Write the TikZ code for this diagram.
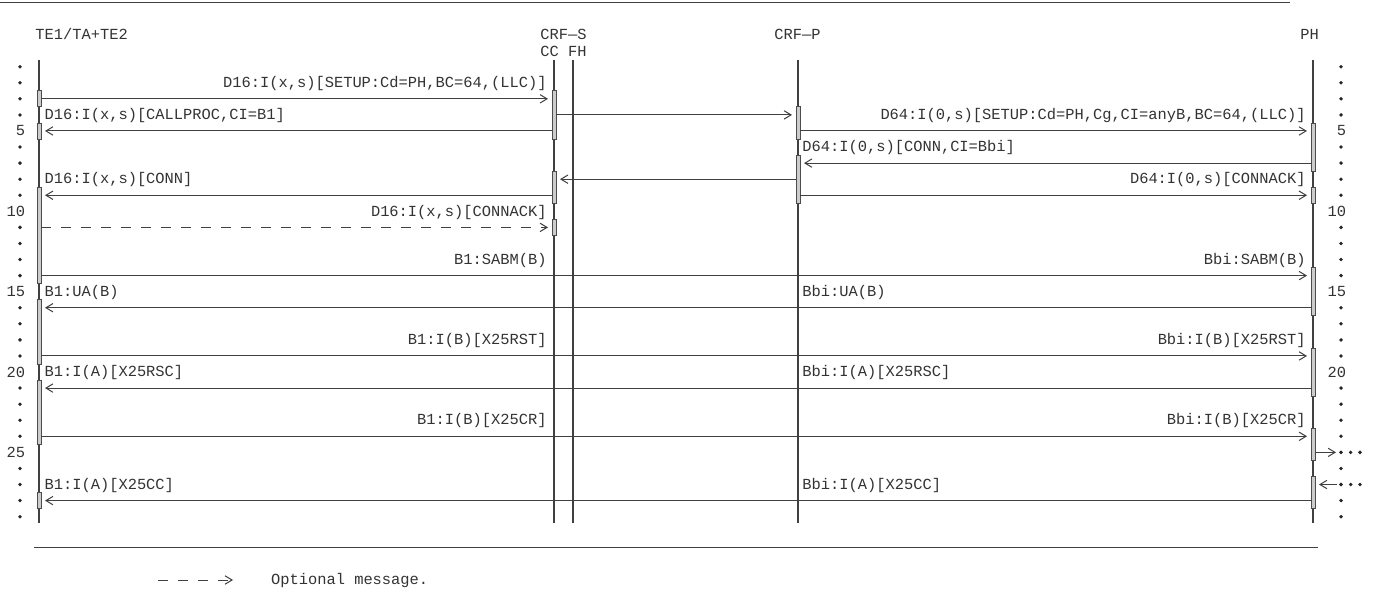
\documentclass[tikz,border=0pt]{standalone}
\usepackage{fontspec}
\usepackage{tikz}
\usetikzlibrary{arrows.meta}
\newfontfamily\monofam{Liberation Mono}
\newcommand\rowTop{66.7}
\newcommand\rowH{16.07}
\newcommand\barW{2}
\newcommand\xTE{39}
\newcommand\xCC{554}
\newcommand\xFH{573}
\newcommand\xCRFP{798}
\newcommand\xPH{1313}
\newcommand{\rowY}[1]{\rowTop + (#1 - 1) * \rowH}
\newcommand{\actBar}[3]{
    \draw[actbar] ({#1 - \barW}, {\rowY{#2} - \rowH / 2}) rectangle ({#1 + \barW}, {\rowY{#3} + \rowH / 2});
}
\tikzset{
    rule/.style={draw=black!75, line width=0.5pt},
    lifeline/.style={draw=black!75, line width=0.6pt},
    actbar/.style={draw=black!70, fill=black!20, line width=0.4pt},
    msg/.style={draw=black!75, line width=0.5pt, -{Straight Barb[length=3.5pt, width=4.2pt]}, shorten <=1pt, shorten >=3pt},
    optmsg/.style={msg, dash pattern=on 5pt off 5pt},
    lbl/.style={font=\monofam\fontsize{7.7}{9}\selectfont, text=black!80, inner sep=0pt},
    rowdot/.style={fill=black!85},
}

\begin{document}
\begin{tikzpicture}[x=0.5pt, y=-0.5pt]
        \useasboundingbox (0,0) rectangle (1375,592);

        \draw[rule] (0,3) -- (1290,3);
        \draw[rule] (34,547) -- (1318,547);

        \coordinate (te) at (\xTE,60);
        \coordinate (cc) at (\xCC,60);
        \coordinate (fh) at (\xFH,60);
        \coordinate (crfp) at (\xCRFP,60);
        \coordinate (ph) at (\xPH,60);
        \coordinate (foot) at (0,523);
        \foreach \n in {1,...,29} {
            \coordinate (r\n) at (0,{\rowY{\n}});
        }

        % heads
        \node[lbl, anchor=base west] (hTE) at (35,39.4) {TE1/TA+TE2};
        \node[lbl, anchor=base west] (hCRFS) at (540,39.4) {CRF—S};
        \node[lbl, anchor=base west] (hCCFH) at (540,56.4) {CC FH};
        \node[lbl, anchor=base west] (hCRFP) at (774,39.4) {CRF—P};
        \node[lbl, anchor=base west] (hPH) at (1300,39.4) {PH};

        \foreach \l in {te,cc,fh,crfp,ph} {
            \draw[lifeline] (\l) -- (\l |- foot);
        }

        % row marks
        \foreach \n in {1,...,29} {
            \pgfmathtruncatemacro\m{mod(\n,5)}
            \ifnum\m=0
                \node[lbl, anchor=east] (numL\n) at (25.5,{\rowY{\n}}) {\n};
                \ifnum\n<25
                    \node[lbl, anchor=east] (numR\n) at (1346.5,{\rowY{\n}}) {\n};
                \fi
            \else
                \fill[rowdot] (20,{\rowY{\n}}) circle[radius=0.95pt];
                \fill[rowdot] (1341,{\rowY{\n}}) circle[radius=0.95pt];
            \fi
        }
        \foreach \n in {25,27} {
            \foreach \px in {1341,1350.7,1360} {
                \fill[rowdot] (\px,{\rowY{\n}}) circle[radius=0.95pt];
            }
        }

        % activation bars
        \actBar{\xTE}{3}{3}
        \actBar{\xTE}{5}{5}
        \actBar{\xTE}{9}{14}
        \actBar{\xTE}{16}{19}
        \actBar{\xTE}{21}{24}
        \actBar{\xTE}{28}{28}
        \actBar{\xCC}{3}{5}
        \actBar{\xCC}{8}{9}
        \actBar{\xCC}{11}{11}
        \actBar{\xCRFP}{4}{5}
        \actBar{\xCRFP}{7}{9}
        \actBar{\xPH}{5}{7}
        \actBar{\xPH}{9}{9}
        \actBar{\xPH}{14}{16}
        \actBar{\xPH}{19}{21}
        \actBar{\xPH}{24}{25}
        \actBar{\xPH}{27}{28}

        % call setup
        \draw[msg] (te |- r3) -- (cc |- r3);
        \node[lbl, anchor=base east] (m3) at ([xshift=-3.5pt, yshift=-2.35pt] cc |- r2) {D16:I(x,s)[SETUP:Cd=PH,BC=64,(LLC)]};
        \draw[msg] (cc |- r4) -- (crfp |- r4);
        \draw[msg] (crfp |- r5) -- (ph |- r5);
        \node[lbl, anchor=base east] (m5a) at ([xshift=-3.5pt, yshift=-2.35pt] ph |- r4) {D64:I(0,s)[SETUP:Cd=PH,Cg,CI=anyB,BC=64,(LLC)]};
        \draw[msg] (cc |- r5) -- (te |- r5);
        \node[lbl, anchor=base west] (m5b) at ([xshift=2.6pt, yshift=-2.35pt] te |- r4) {D16:I(x,s)[CALLPROC,CI=B1]};
        \draw[msg] (ph |- r7) -- (crfp |- r7);
        \node[lbl, anchor=base west] (m7) at ([xshift=2pt, yshift=-2.35pt] crfp |- r6) {D64:I(0,s)[CONN,CI=Bbi]};
        \draw[msg] (crfp |- r8) -- (cc |- r8);
        \draw[msg] (crfp |- r9) -- (ph |- r9);
        \node[lbl, anchor=base east] (m9a) at ([xshift=-3.5pt, yshift=-2.35pt] ph |- r8) {D64:I(0,s)[CONNACK]};
        \draw[msg] (cc |- r9) -- (te |- r9);
        \node[lbl, anchor=base west] (m9b) at ([xshift=2.6pt, yshift=-2.35pt] te |- r8) {D16:I(x,s)[CONN]};
        \draw[optmsg] (te |- r11) -- (cc |- r11);
        \node[lbl, anchor=base east] (m11) at ([xshift=-3.5pt, yshift=-2.35pt] cc |- r10) {D16:I(x,s)[CONNACK]};

        % link set up, X.25
        \draw[msg] (te |- r14) -- (ph |- r14);
        \node[lbl, anchor=base east] (m14a) at ([xshift=-3.5pt, yshift=-2.35pt] cc |- r13) {B1:SABM(B)};
        \node[lbl, anchor=base east] (m14b) at ([xshift=-3.5pt, yshift=-2.35pt] ph |- r13) {Bbi:SABM(B)};
        \draw[msg] (ph |- r16) -- (te |- r16);
        \node[lbl, anchor=base west] (m16a) at ([xshift=2.6pt, yshift=-2.35pt] te |- r15) {B1:UA(B)};
        \node[lbl, anchor=base west] (m16b) at ([xshift=2pt, yshift=-2.35pt] crfp |- r15) {Bbi:UA(B)};
        \draw[msg] (te |- r19) -- (ph |- r19);
        \node[lbl, anchor=base east] (m19a) at ([xshift=-3.5pt, yshift=-2.35pt] cc |- r18) {B1:I(B)[X25RST]};
        \node[lbl, anchor=base east] (m19b) at ([xshift=-3.5pt, yshift=-2.35pt] ph |- r18) {Bbi:I(B)[X25RST]};
        \draw[msg] (ph |- r21) -- (te |- r21);
        \node[lbl, anchor=base west] (m21a) at ([xshift=2.6pt, yshift=-2.35pt] te |- r20) {B1:I(A)[X25RSC]};
        \node[lbl, anchor=base west] (m21b) at ([xshift=2pt, yshift=-2.35pt] crfp |- r20) {Bbi:I(A)[X25RSC]};
        \draw[msg] (te |- r24) -- (ph |- r24);
        \node[lbl, anchor=base east] (m24a) at ([xshift=-3.5pt, yshift=-2.35pt] cc |- r23) {B1:I(B)[X25CR]};
        \node[lbl, anchor=base east] (m24b) at ([xshift=-3.5pt, yshift=-2.35pt] ph |- r23) {Bbi:I(B)[X25CR]};
        \coordinate (outA) at (1336,{\rowY{25}});
        \coordinate (outB) at (1337,{\rowY{27}});
        \draw[msg, shorten >=0pt] (ph |- r25) -- (outA);
        \draw[msg, shorten <=0pt] (outB) -- (ph |- r27);
        \draw[msg] (ph |- r28) -- (te |- r28);
        \node[lbl, anchor=base west] (m28a) at ([xshift=2.6pt, yshift=-2.35pt] te |- r27) {B1:I(A)[X25CC]};
        \node[lbl, anchor=base west] (m28b) at ([xshift=2pt, yshift=-2.35pt] crfp |- r27) {Bbi:I(A)[X25CC]};

        % legend
        \coordinate (legA) at (158,580);
        \coordinate (legB) at (233,580);
        \draw[optmsg, shorten <=0pt, shorten >=0pt] (legA) -- (legB);
        \node[lbl, anchor=base west] (legT) at (270.7,584.4) {Optional message.};
\end{tikzpicture}
\end{document}
